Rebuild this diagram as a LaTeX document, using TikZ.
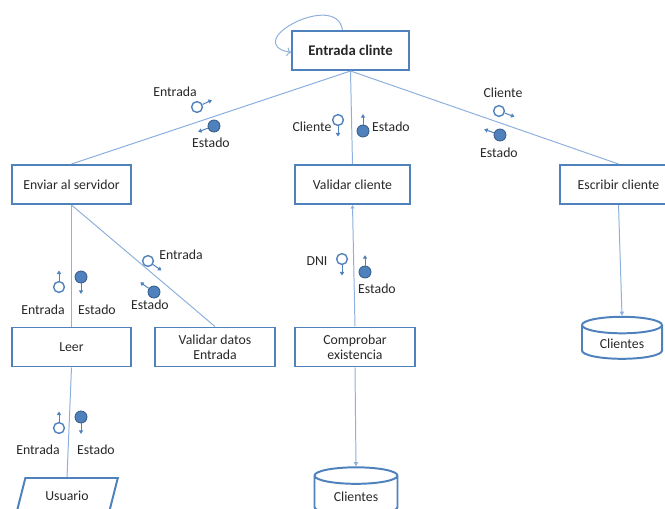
\documentclass[tikz,border=0pt]{standalone}
\usepackage{fontspec}
\setmainfont{Carlito}
\usetikzlibrary{arrows.meta,shapes.geometric}
\definecolor{boxblue}{RGB}{79,129,189}
\definecolor{linkblue}{RGB}{141,176,220}
\definecolor{dotblue}{RGB}{79,129,189}
\definecolor{dotedge}{RGB}{56,93,138}
\definecolor{txtgray}{RGB}{40,40,40}

\begin{document}
\begin{tikzpicture}[x=0.025cm, y=-0.025cm, font=\fontsize{9.8}{11}\selectfont, text=txtgray,
  proc/.style={draw=boxblue, line width=1.4pt, minimum height=0.975cm, align=center, inner sep=1pt},
  store/.style={cylinder, shape border rotate=90, draw=boxblue, line width=1.4pt, aspect=0.35, inner sep=1pt},
  link/.style={linkblue, line width=0.7pt},
  cin/.style={circle, draw=boxblue, line width=1pt, fill=white, inner sep=0pt, minimum size=0.27cm},
  cout/.style={circle, draw=dotedge, line width=0.6pt, fill=dotblue, inner sep=0pt, minimum size=0.3cm},
  flow/.style={boxblue, line width=0.7pt, -{Triangle[length=2.5pt,width=3pt]}}]
\useasboundingbox (0,0) rectangle (665,508);
\clip (0,0) rectangle (665,508);
% Modules
\node[proc, minimum width=2.925cm, font=\fontsize{10.5}{12}\selectfont\bfseries] (top) at (350.5,50.5) {Entrada clinte};
\node[proc, minimum width=2.975cm] (enviar) at (71.5,184.5) {Enviar al servidor};
\node[proc, minimum width=2.875cm] (validar) at (352.5,184.5) {Validar cliente};
\node[proc, minimum width=2.925cm] (escribir) at (618.5,184.5) {Escribir cliente};
\node[proc, minimum width=2.975cm] (leer) at (71.5,347) {Leer};
\node[proc, minimum width=3cm] (vdatos) at (215,347) {Validar datos\\Entrada};
\node[proc, minimum width=3cm] (comprobar) at (355,347) {Comprobar\\existencia};
% Stores and user
\node[store, minimum width=2cm, minimum height=1.05cm] (clientesA) at (622,343.5) {Clientes};
\node[store, minimum width=2.075cm, minimum height=1.2cm] (clientesB) at (356,497) {Clientes};
\node[trapezium, trapezium left angle=73, trapezium right angle=107, trapezium stretches=true,
  draw=boxblue, line width=1.4pt, minimum width=2.55cm, minimum height=0.9cm] (usuario) at (67,496) {Usuario};
% Self loop
\draw[link, -{To[length=3pt]}] ([xshift=-0.2cm]top.north) .. controls +(-0.15cm,1cm) and +(-1.3cm,0.25cm) .. ([yshift=-0.05cm]top.west);
% Connectors
\draw[link] (top.south) -- (enviar.north);
\draw[link] (top.south) -- (validar.north);
\draw[link] (top.south) -- (escribir.north);
\draw[link] (enviar.south) -- (leer.north);
\draw[link] (enviar.south) -- (vdatos.north);
\draw[link, -{Triangle[length=2.5pt,width=2.5pt]}] (comprobar.north) -- (validar.south);
\draw[link, -{Triangle[length=3pt,width=3pt]}] (escribir.south) -- (clientesA.north);
\draw[link, -{Triangle[length=3pt,width=3pt]}] (comprobar.south) -- (clientesB.north);
\draw[link] (leer.south) -- (usuario.north);
% Couples
\foreach \n/\k/\x/\y/\a/\lx/\ly/\t in {
  ca/cin/197/107/25/175/92/Entrada, cb/cout/214/126/200/211/143/Estado,
  cc/cin/338/120/270/312/127/Cliente, cd/cout/363/131/90/391/127/Estado,
  ce/cin/499/111/340/503/93/Cliente, cf/cout/500/135/160/499/153/Estado,
  cg/cin/59/287/90/43/310/Entrada, ch/cout/81/277/270/97/310/Estado,
  ci/cin/148/261/325/181/255/Entrada, cj/cout/154/292/145/150/305/Estado,
  ck/cin/342/259/270/317/261/DNI, cl/cout/365/272/90/377/289/Estado,
  cm/cin/59/428/90/38/450/Entrada, cn/cout/81/417/270/96/450/Estado} {
  \node[\k] (\n) at (\x,\y) {};
  \draw[flow] (\n.\a) -- ++(\a:0.26cm);
  \node (\n-t) at (\lx,\ly) {\t};
}
\end{tikzpicture}
\end{document}
